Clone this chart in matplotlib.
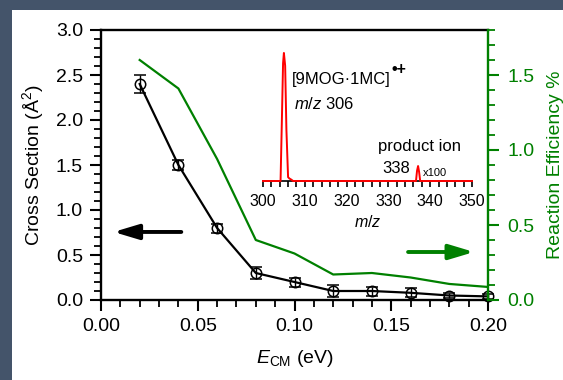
import matplotlib
matplotlib.use("Agg")
import matplotlib.pyplot as plt
from matplotlib.patches import Rectangle
from matplotlib.ticker import MultipleLocator, FormatStrFormatter

plt.rcParams['font.family'] = ['Liberation Sans', 'DejaVu Sans']
plt.rcParams['mathtext.fontset'] = 'custom'
plt.rcParams['mathtext.rm'] = 'Liberation Sans'
plt.rcParams['mathtext.it'] = 'Liberation Sans:italic'

# cross section vs collision energy
e_cm = [0.02, 0.04, 0.06, 0.08, 0.10, 0.12, 0.14, 0.16, 0.18, 0.20]
cross = [2.40, 1.50, 0.80, 0.30, 0.20, 0.10, 0.10, 0.08, 0.05, 0.04]
cross_err = [0.10, 0.06, 0.05, 0.07, 0.05, 0.07, 0.05, 0.05, 0.03, 0.03]
# reaction efficiency (%)
eff = [1.60, 1.41, 0.94, 0.40, 0.31, 0.17, 0.18, 0.15, 0.107, 0.087]

# inset mass spectrum
mz = [300, 304.2, 304.5, 304.8, 305.0, 305.3, 305.6, 306.0, 306.3, 306.8, 307.2,
      336.6, 336.85, 337.1, 337.35, 337.6, 350]
inten = [0, 0, 0.45, 0.92, 1.0, 0.9, 0.4, 0.03, 0.02, 0.01, 0,
         0, 0.08, 0.117, 0.07, 0, 0]

W, H = 563, 380
green = '#008000'
fs = 14

fig = plt.figure(figsize=(W / 100, H / 100), dpi=100)
fig.patch.set_facecolor('#44546a')
fig.patches.append(Rectangle((12 / W, 0), 1, (H - 10) / H, transform=fig.transFigure,
                             facecolor='white', edgecolor='none', zorder=-10))

ax = fig.add_axes([101 / W, (H - 300) / H, 387 / W, 270 / H])
ax.patch.set_alpha(0)
ax.errorbar(e_cm, cross, yerr=cross_err, color='black', lw=1.6, marker='o',
            ms=7.5, mfc='none', mec='black', mew=1.1, capsize=4, elinewidth=1,
            zorder=5, clip_on=False)
ax.set_xlim(0, 0.20)
ax.set_ylim(0, 3.0)
ax.xaxis.set_major_locator(MultipleLocator(0.05))
ax.xaxis.set_minor_locator(MultipleLocator(0.01))
ax.yaxis.set_major_locator(MultipleLocator(0.5))
ax.yaxis.set_minor_locator(MultipleLocator(0.1))
ax.xaxis.set_major_formatter(FormatStrFormatter('%.2f'))
ax.yaxis.set_major_formatter(FormatStrFormatter('%.1f'))
ax.tick_params(which='major', direction='out', length=8, width=1.5, labelsize=fs, pad=5)
ax.tick_params(which='minor', direction='out', length=5, width=1.3)
ax.tick_params(axis='y', which='both', right=False)
for s in ax.spines.values():
    s.set_linewidth(1.7)
ax.spines['right'].set_visible(False)
ax.set_xlabel(r'$E_{\mathrm{CM}}$ (eV)', fontsize=fs, labelpad=9)
ax.set_ylabel(r'Cross Section ($\mathrm{\AA}^2$)', fontsize=fs, labelpad=7)

ax2 = ax.twinx()
ax2.plot(e_cm, eff, color=green, lw=1.6)
ax2.set_ylim(0, 1.8)
ax2.yaxis.set_major_locator(MultipleLocator(0.5))
ax2.yaxis.set_minor_locator(MultipleLocator(0.1))
ax2.yaxis.set_major_formatter(FormatStrFormatter('%.1f'))
ax2.tick_params(which='major', direction='out', length=8, width=1.5, labelsize=fs,
                pad=6, color=green, labelcolor=green)
ax2.tick_params(which='minor', direction='out', length=5, width=1.3, color=green)
for k in ['left', 'top', 'bottom']:
    ax2.spines[k].set_visible(False)
ax2.spines['right'].set_color(green)
ax2.spines['right'].set_linewidth(1.7)
ax2.set_ylabel('Reaction Efficiency %', fontsize=fs, color=green, labelpad=9)

ax.annotate('', xy=(0.0065, 0.756), xytext=(0.0415, 0.756),
            arrowprops=dict(arrowstyle='-|>,head_length=1.5,head_width=0.45',
                            color='black', lw=2.8, shrinkA=0, shrinkB=0))
ax2.annotate('', xy=(0.1928, 0.32), xytext=(0.1587, 0.32),
             arrowprops=dict(arrowstyle='-|>,head_length=1.5,head_width=0.45',
                             color=green, lw=2.8, shrinkA=0, shrinkB=0))

# inset
ins = fig.add_axes([263 / W, (H - 181) / H, 209 / W, 131 / H])
ins.patch.set_alpha(0)
ins.plot(mz, inten, color='red', lw=1.4, clip_on=False, zorder=5)
ins.set_xlim(300, 350)
ins.set_ylim(0, 1.023)
for k in ['left', 'top', 'right']:
    ins.spines[k].set_visible(False)
ins.spines['bottom'].set_linewidth(1.2)
ins.set_yticks([])
ins.xaxis.set_major_locator(MultipleLocator(10))
ins.xaxis.set_minor_locator(MultipleLocator(2))
ins.tick_params(which='major', direction='out', length=4, width=1.2, labelsize=11.5, pad=5)
ins.tick_params(which='minor', direction='out', length=4, width=1.2)
ins.set_xlabel('$m/z$', fontsize=11.5, labelpad=4)
t = ins.text(306.8, 0.79, '[9MOG\u00b71MC]', fontsize=12, va='center')
ins.annotate('\u2022+', xy=(1.01, 0.72), xycoords=t, fontsize=11.5,
             fontweight='bold', va='bottom', ha='left')
ins.text(307.4, 0.60, '$m/z$ 306', fontsize=12, va='center')
ins.text(327.6, 0.27, 'product ion', fontsize=12, va='center')
ins.text(328.6, 0.10, '338', fontsize=12, va='center')
ins.text(338.2, 0.06, 'x100', fontsize=8, va='center')

fig.savefig('out.png', dpi=100, facecolor=fig.get_facecolor())
